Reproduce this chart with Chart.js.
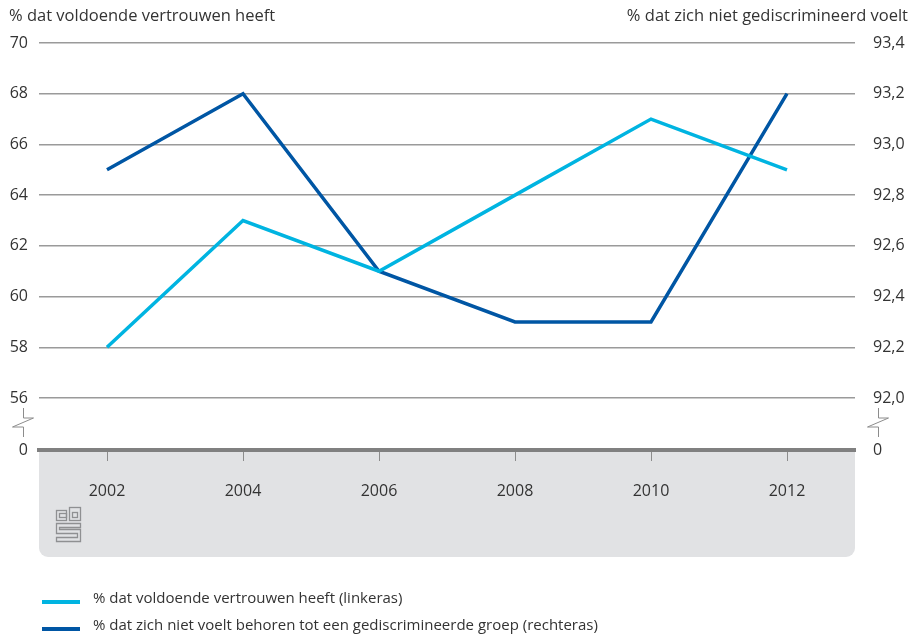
<!DOCTYPE html>
<html>
<head>
<meta charset="utf-8">
<script src="https://cdn.jsdelivr.net/npm/chart.js@4"></script>
<style>
  html, body { margin: 0; padding: 0; background: #fff; }
  #wrap { width: 922px; height: 636px; position: relative; }
</style>
</head>
<body>
<div id="wrap"><canvas id="chart"></canvas></div>
<script>
// data
const years = ['2002', '2004', '2006', '2008', '2010', '2012'];
const trustValues = [58, 63, 61, 64, 67, 65];              // linkeras
const discrimValues = [92.9, 93.2, 92.5, 92.3, 92.3, 93.2]; // rechteras
const leftTicks = [56, 58, 60, 62, 64, 66, 68, 70];
const rightTicks = [92.0, 92.2, 92.4, 92.6, 92.8, 93.0, 93.2, 93.4];
const leftTitle = '% dat voldoende vertrouwen heeft';
const rightTitle = '% dat zich niet gediscrimineerd voelt';
const legendLabels = [
  '% dat voldoende vertrouwen heeft (linkeras)',
  '% dat zich niet voelt behoren tot een gediscrimineerde groep (rechteras)'
];

const LIGHT = '#00b4e1';
const DARK = '#0056a4';
const TEXT = '#333333';
const FONT = '"Open Sans", "Noto Sans", sans-serif';

// axis break: the '0' sits about two steps below the lowest tick
const leftMin = leftTicks[0] - 2.05;
const rightMin = rightTicks[0] - 0.205;

function breakMark(ctx, x) {
  ctx.beginPath();
  ctx.moveTo(x, 408);
  ctx.lineTo(x, 418);
  ctx.lineTo(x + 10, 418);
  ctx.lineTo(x - 11, 427);
  ctx.lineTo(x, 427);
  ctx.lineTo(x, 437);
  ctx.stroke();
}

const decor = {
  id: 'decor',
  beforeDraw(chart) {
    const ctx = chart.ctx;
    const a = chart.chartArea;
    // grey footer box
    ctx.save();
    ctx.fillStyle = '#e1e2e4';
    ctx.beginPath();
    ctx.roundRect(a.left, a.bottom, a.right - a.left, 107, [0, 0, 9, 9]);
    ctx.fill();
    ctx.restore();
  },
  afterDraw(chart) {
    const ctx = chart.ctx;
    ctx.save();
    ctx.fillStyle = TEXT;
    ctx.font = '16.5px ' + FONT;
    ctx.textBaseline = 'middle';
    ctx.textAlign = 'left';
    ctx.fillText(leftTitle, 9, 16);
    ctx.textAlign = 'right';
    ctx.fillText(rightTitle, 908, 16);

    // axis breaks
    ctx.strokeStyle = '#8c8c8c';
    ctx.lineWidth = 1;
    breakMark(ctx, 23.5);
    breakMark(ctx, 878.5);

    // cbs logo (rough)
    ctx.strokeStyle = '#8f9092';
    ctx.lineWidth = 1.3;
    ctx.strokeRect(56.5, 510.5, 10, 10);
    ctx.strokeRect(59.5, 513.5, 7, 4);
    ctx.strokeRect(69.5, 507.5, 11, 13);
    ctx.strokeRect(72.5, 512.5, 5, 5);
    ctx.beginPath();
    ctx.moveTo(80.5, 523.5); ctx.lineTo(56.5, 523.5); ctx.lineTo(56.5, 533.5);
    ctx.lineTo(77.5, 533.5); ctx.lineTo(77.5, 537.5); ctx.lineTo(56.5, 537.5);
    ctx.lineTo(56.5, 541.5); ctx.lineTo(80.5, 541.5); ctx.lineTo(80.5, 529.5);
    ctx.lineTo(59.5, 529.5); ctx.lineTo(59.5, 527.5); ctx.lineTo(80.5, 527.5);
    ctx.closePath();
    ctx.stroke();

    // legend
    ctx.font = '15px ' + FONT;
    ctx.textAlign = 'left';
    [LIGHT, DARK].forEach((c, i) => {
      const y = 602 + i * 27;
      ctx.fillStyle = c;
      ctx.fillRect(42, y - 2, 38, 4);
      ctx.fillStyle = TEXT;
      ctx.fillText(legendLabels[i], 93, y - 3);
    });
    ctx.restore();
  }
};

new Chart(document.getElementById('chart'), {
  type: 'line',
  data: {
    labels: years,
    datasets: [
      {
        label: legendLabels[0],
        data: trustValues,
        yAxisID: 'yL',
        borderColor: LIGHT,
        borderWidth: 3.5,
        borderJoinStyle: 'miter',
        pointRadius: 0,
        tension: 0
      },
      {
        label: legendLabels[1],
        data: discrimValues,
        yAxisID: 'yR',
        borderColor: DARK,
        borderWidth: 3.5,
        borderJoinStyle: 'miter',
        pointRadius: 0,
        tension: 0
      }
    ]
  },
  options: {
    responsive: true,
    maintainAspectRatio: false,
    animation: false,
    events: [],
    layout: { padding: { top: 43, left: 0, right: 0, bottom: 0 } },
    plugins: {
      legend: { display: false },
      tooltip: { enabled: false }
    },
    scales: {
      x: {
        offset: true,
        grid: {
          offset: false,
          drawOnChartArea: false,
          drawTicks: true,
          tickLength: 11,
          color: '#8c8c8c',
          lineWidth: 1
        },
        border: { display: true, color: '#808080', width: 4 },
        ticks: {
          color: TEXT,
          font: { family: FONT, size: 16 },
          padding: 21,
          maxRotation: 0
        },
        afterFit(scale) { scale.height = 186; }
      },
      yL: {
        position: 'left',
        min: leftMin,
        max: leftTicks[leftTicks.length - 1],
        afterBuildTicks(scale) {
          scale.ticks = [leftMin].concat(leftTicks).map(v => ({ value: v }));
        },
        grid: {
          drawTicks: false,
          color: ctx => (ctx.tick && ctx.tick.value < leftTicks[0] ? 'rgba(0,0,0,0)' : '#9a9a9a'),
          lineWidth: 1.5
        },
        border: { display: false },
        ticks: {
          color: TEXT,
          font: { family: FONT, size: 16 },
          padding: 11,
          callback: v => (v < leftTicks[0] ? '0' : String(v))
        },
        afterFit(scale) { scale.width = 39; }
      },
      yR: {
        position: 'right',
        min: rightMin,
        max: rightTicks[rightTicks.length - 1],
        afterBuildTicks(scale) {
          scale.ticks = [rightMin].concat(rightTicks).map(v => ({ value: v }));
        },
        grid: { drawOnChartArea: false, drawTicks: false },
        border: { display: false },
        ticks: {
          color: TEXT,
          font: { family: FONT, size: 16 },
          padding: 18,
          callback: v => (v < rightTicks[0] ? '0' : v.toFixed(1).replace('.', ','))
        },
        afterFit(scale) { scale.width = 67; }
      }
    }
  },
  plugins: [decor]
});
</script>
</body>
</html>
